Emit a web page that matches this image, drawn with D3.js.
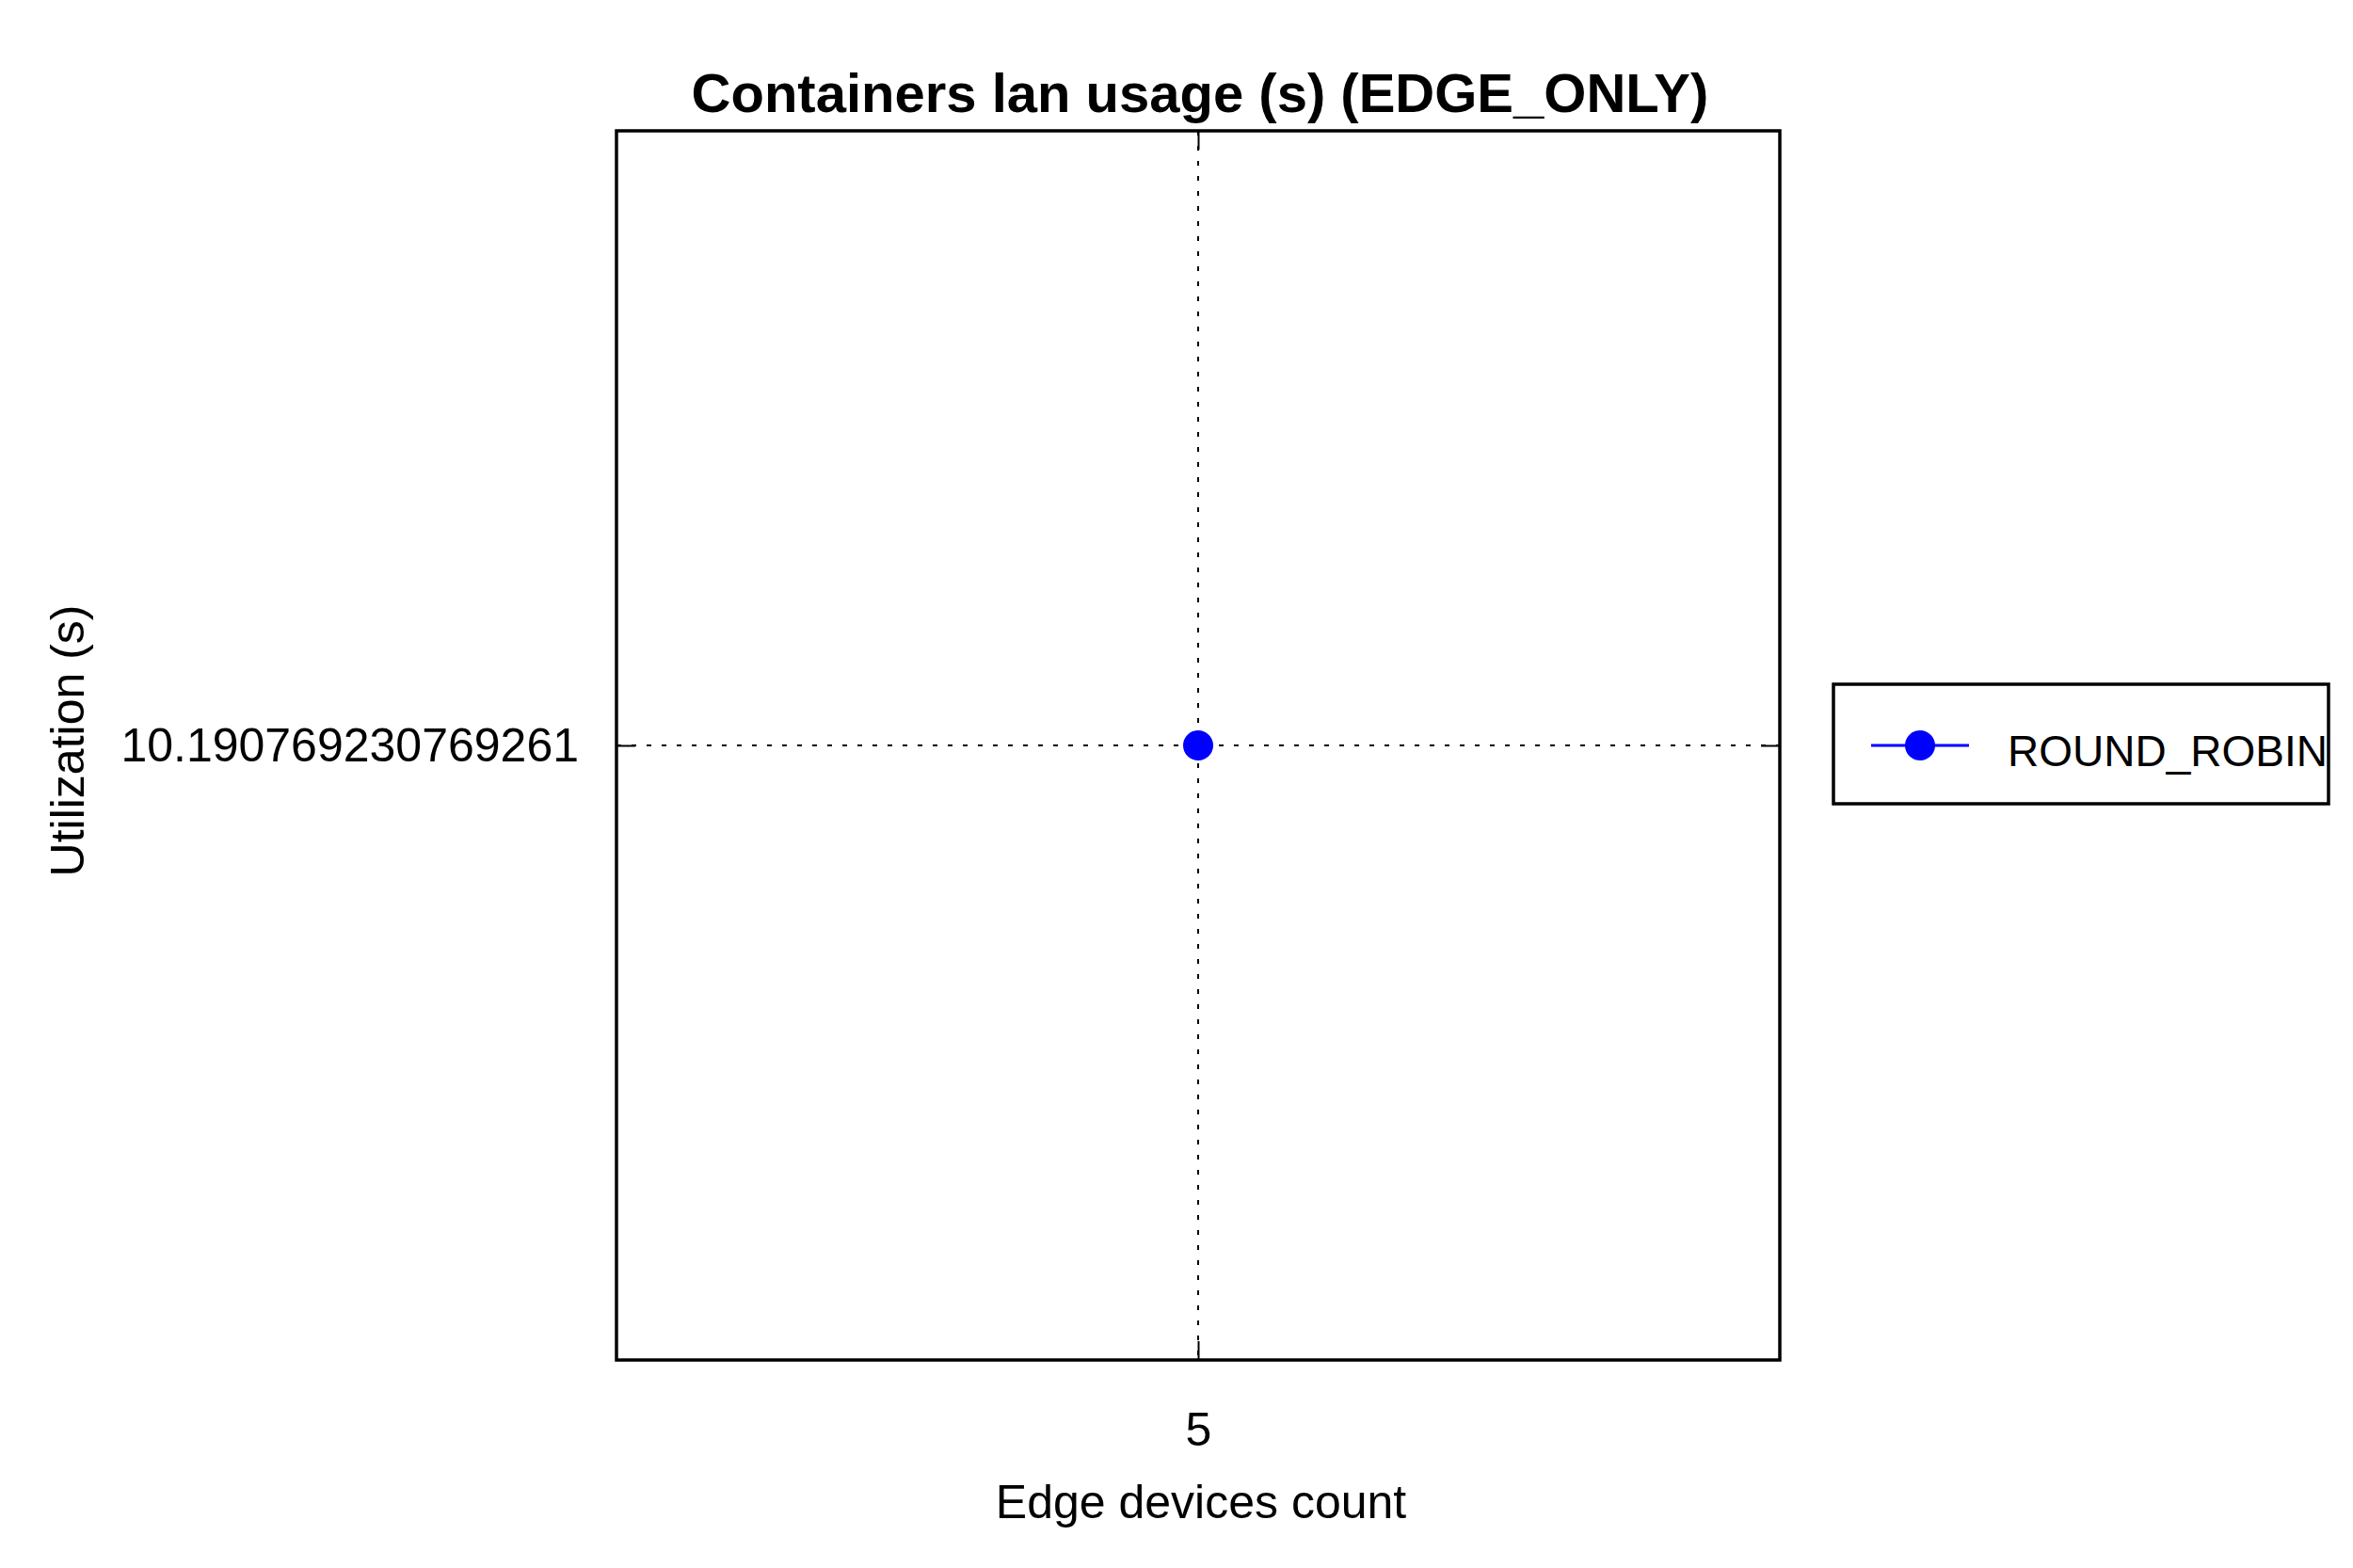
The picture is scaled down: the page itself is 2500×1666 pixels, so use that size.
<!DOCTYPE html>
<html>
<head>
<meta charset="utf-8">
<script src="https://cdn.jsdelivr.net/npm/d3@7"></script>
<style>
  html, body { margin: 0; padding: 0; background: #ffffff; }
  svg { display: block; font-family: "Liberation Sans", Arial, sans-serif; }
</style>
</head>
<body>
<svg id="chart" width="2500" height="1666"></svg>
<script>
// ---- data ----
const categories = [5];                       // Edge devices count
const seriesNames = ["ROUND_ROBIN"];
const roundRobinValues = [10.190769230769261];
const xTickLabels = ["5"];
const yTickLabels = ["10.190769230769261"];
const titleText = "Containers lan usage (s) (EDGE_ONLY)";
const xLabelText = "Edge devices count";
const yLabelText = "Utilization (s)";

// ---- layout ----
const W = 2500, H = 1666;
const plot = { left: 655, right: 1891, top: 139, bottom: 1445 };
const svg = d3.select("#chart");

const x = d3.scaleLinear()
  .domain([categories[0] - 1, categories[0] + 1])
  .range([plot.left, plot.right]);
const y = d3.scaleLinear()
  .domain([roundRobinValues[0] - 1, roundRobinValues[0] + 1])
  .range([plot.bottom, plot.top]);

// grid lines (dotted)
const grid = svg.append("g").attr("stroke", "#000").attr("stroke-width", 2)
  .attr("stroke-dasharray", "5,11").attr("fill", "none");
categories.forEach(c => {
  grid.append("line").attr("x1", x(c)).attr("x2", x(c))
    .attr("y1", plot.top).attr("y2", plot.bottom);
});
roundRobinValues.forEach(v => {
  grid.append("line").attr("x1", plot.left).attr("x2", plot.right)
    .attr("y1", y(v)).attr("y2", y(v));
});

// axes with inward ticks
const tickLen = 20;
const xAxisB = d3.axisBottom(x).tickValues(categories).tickSize(-tickLen)
  .tickFormat((d, i) => xTickLabels[i]).tickPadding(55);
const xAxisT = d3.axisTop(x).tickValues(categories).tickSize(-tickLen).tickFormat("");
const yAxisL = d3.axisLeft(y).tickValues(roundRobinValues).tickSize(-tickLen)
  .tickFormat((d, i) => yTickLabels[i]).tickPadding(40);
const yAxisR = d3.axisRight(y).tickValues(roundRobinValues).tickSize(-tickLen).tickFormat("");

function styleAxis(g) {
  g.select(".domain").remove();
  g.selectAll(".tick line").attr("stroke", "#000").attr("stroke-width", 2);
  g.selectAll(".tick text").attr("fill", "#000")
    .style("font-family", "'Liberation Sans', Arial, sans-serif")
    .style("font-size", "50px");
}
svg.append("g").attr("transform", `translate(0,${plot.bottom})`).call(xAxisB).call(styleAxis);
svg.append("g").attr("transform", `translate(0,${plot.top})`).call(xAxisT).call(styleAxis);
svg.append("g").attr("transform", `translate(${plot.left},0)`).call(yAxisL).call(styleAxis);
svg.append("g").attr("transform", `translate(${plot.right},0)`).call(yAxisR).call(styleAxis);

// frame
svg.append("rect").attr("x", plot.left).attr("y", plot.top)
  .attr("width", plot.right - plot.left).attr("height", plot.bottom - plot.top)
  .attr("fill", "none").attr("stroke", "#000").attr("stroke-width", 3.5);

// series
const pts = categories.map((c, i) => ({ x: c, y: roundRobinValues[i] }));
svg.append("path").datum(pts)
  .attr("d", d3.line().x(d => x(d.x)).y(d => y(d.y)))
  .attr("fill", "none").attr("stroke", "#0000ff").attr("stroke-width", 3);
svg.append("g").selectAll("circle").data(pts).join("circle")
  .attr("cx", d => x(d.x)).attr("cy", d => y(d.y)).attr("r", 16)
  .attr("fill", "#0000ff");

// title & labels
svg.append("text").attr("x", (plot.left + plot.right) / 2 + 2).attr("y", 119)
  .attr("text-anchor", "middle").attr("font-weight", "bold").attr("font-size", 58)
  .attr("fill", "#000").text(titleText);
svg.append("text").attr("x", (plot.left + plot.right) / 2 + 3).attr("y", 1613)
  .attr("text-anchor", "middle").attr("font-size", 50).attr("fill", "#000").text(xLabelText);
svg.append("text").attr("transform", `translate(89,787) rotate(-90)`)
  .attr("text-anchor", "middle").attr("font-size", 50).attr("fill", "#000").text(yLabelText);

// legend
const leg = { x: 1948, y: 727, w: 526, h: 127 };
svg.append("rect").attr("x", leg.x).attr("y", leg.y).attr("width", leg.w).attr("height", leg.h)
  .attr("fill", "#fff").attr("stroke", "#000").attr("stroke-width", 3.5);
const ly = y(roundRobinValues[0]);
seriesNames.forEach((name, i) => {
  svg.append("line").attr("x1", 1988).attr("x2", 2092).attr("y1", ly).attr("y2", ly)
    .attr("stroke", "#0000ff").attr("stroke-width", 3);
  svg.append("circle").attr("cx", 2040).attr("cy", ly).attr("r", 16).attr("fill", "#0000ff");
  svg.append("text").attr("x", 2133).attr("y", ly + 22).attr("font-size", 46)
    .attr("fill", "#000").text(name);
});
</script>
</body>
</html>
